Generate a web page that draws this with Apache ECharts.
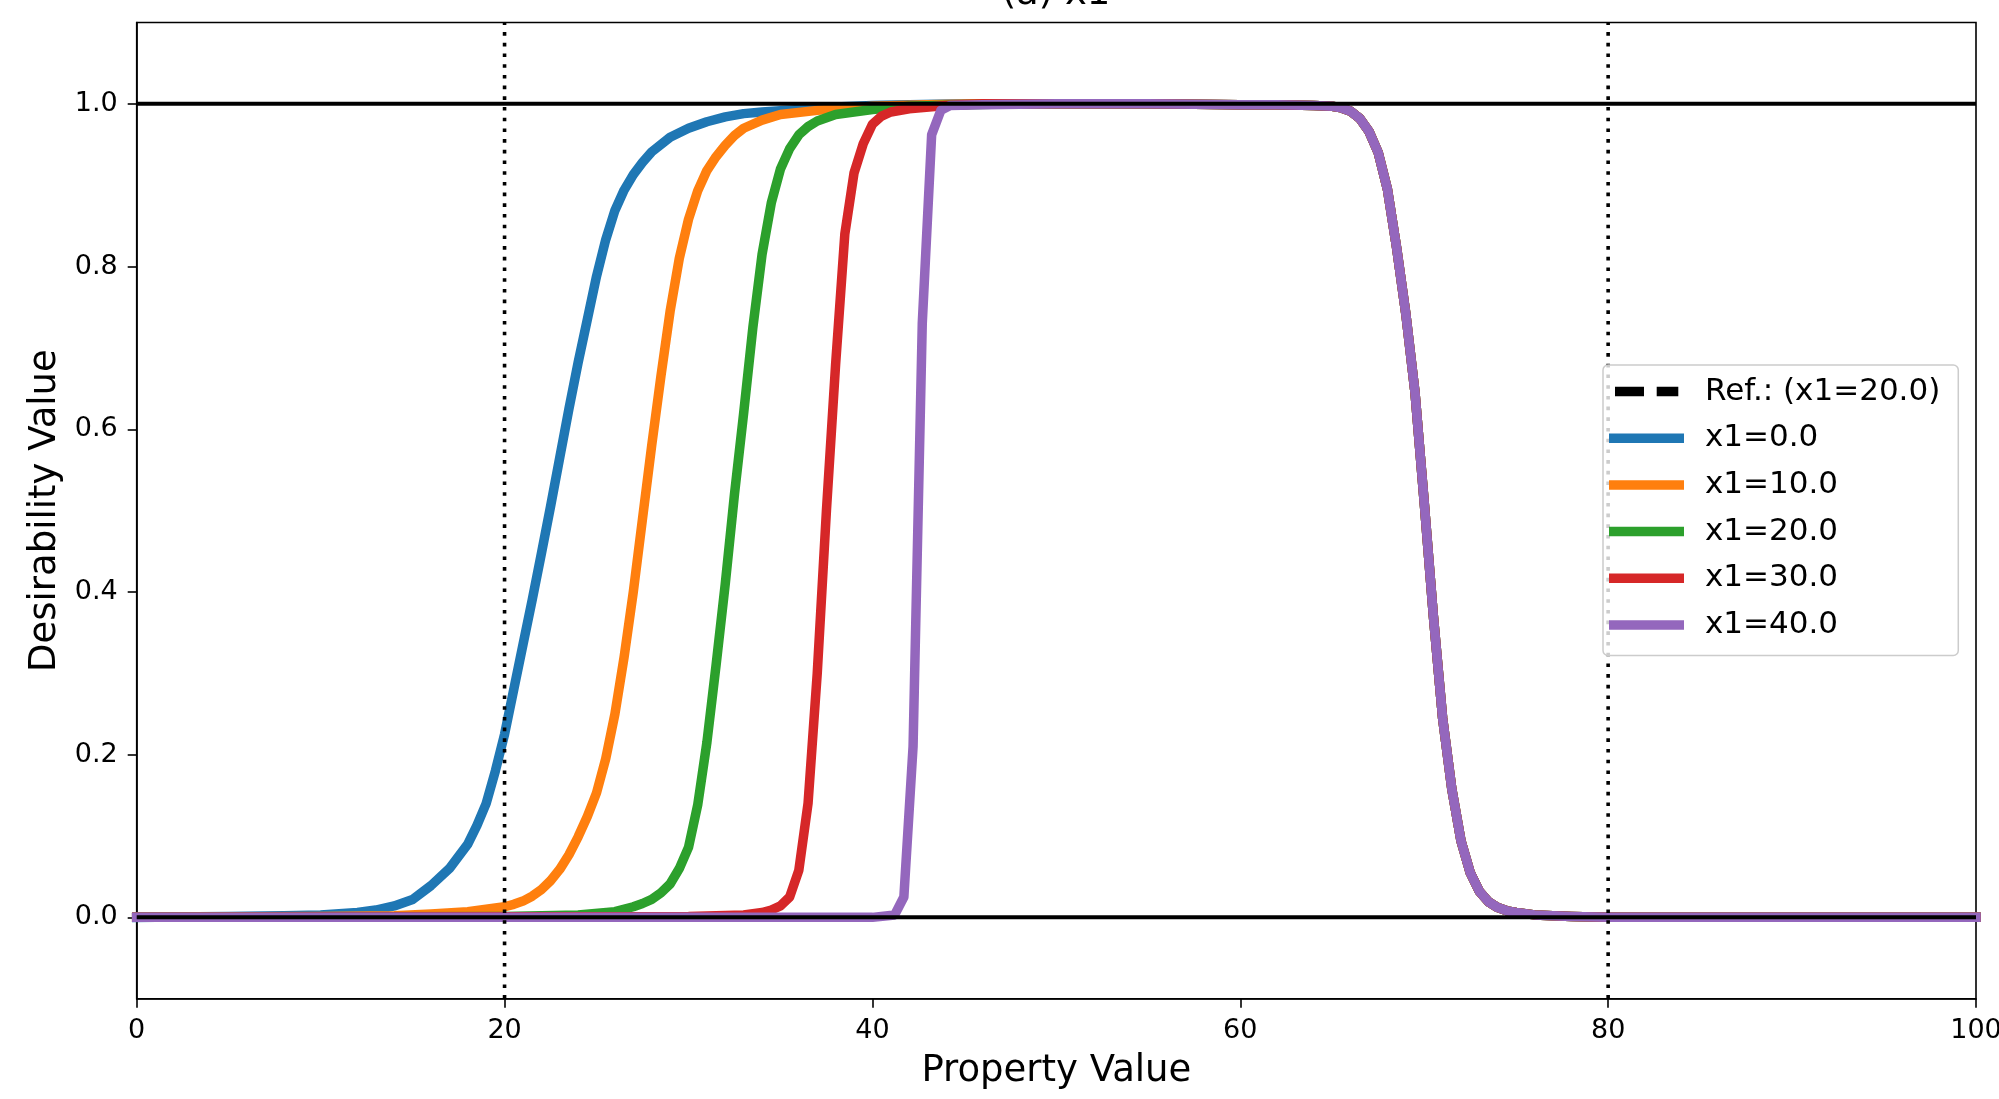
<!DOCTYPE html>
<html>
<head>
<meta charset="utf-8">
<script src="https://cdn.jsdelivr.net/npm/echarts@6/dist/echarts.min.js"></script>
<style>
html,body{margin:0;padding:0;background:#fff;}
#chart{width:1999px;height:1099px;}
</style>
</head>
<body>
<div id="chart"></div>
<script>
// ---- data ----
const seriesNames = ['x1=0.0', 'x1=10.0', 'x1=20.0', 'x1=30.0', 'x1=40.0'];
const refName = 'Ref.: (x1=20.0)';
const colors = ['#1f77b4', '#ff7f0e', '#2ca02c', '#d62728', '#9467bd'];

// rising part of each curve
const riseX_0 = [0, 5, 8, 10, 12, 13, 14, 15, 16, 17, 18, 18.5, 19, 19.5, 20, 20.5, 21, 21.5, 22, 22.5, 23, 23.5, 24, 24.5, 25, 25.5, 26, 26.5, 27, 27.5, 28, 29, 30, 31, 32, 33, 34, 36, 38, 40, 42, 45];
const riseY_0 = [0, 0.001, 0.002, 0.003, 0.006, 0.009, 0.014, 0.022, 0.039, 0.06, 0.09, 0.113, 0.14, 0.18, 0.225, 0.28, 0.335, 0.39, 0.447, 0.505, 0.565, 0.625, 0.682, 0.735, 0.788, 0.833, 0.869, 0.894, 0.913, 0.928, 0.941, 0.959, 0.97, 0.978, 0.984, 0.988, 0.99, 0.993, 0.996, 0.998, 0.999, 1.0];

const riseX_10 = [0, 10, 14, 16, 18, 19, 20, 20.5, 21, 21.5, 22, 22.5, 23, 23.5, 24, 24.5, 25, 25.5, 26, 26.5, 27, 27.5, 28, 28.5, 29, 29.5, 30, 30.5, 31, 31.5, 32, 32.5, 33, 34, 35, 37, 40, 43, 46];
const riseY_10 = [0, 0.001, 0.002, 0.004, 0.007, 0.01, 0.013, 0.016, 0.02, 0.026, 0.034, 0.045, 0.059, 0.077, 0.099, 0.124, 0.153, 0.195, 0.25, 0.32, 0.4, 0.49, 0.58, 0.665, 0.745, 0.81, 0.858, 0.893, 0.918, 0.935, 0.949, 0.961, 0.97, 0.98, 0.987, 0.992, 0.997, 0.999, 1.0];

const riseX_20 = [0, 20, 24, 26, 27, 27.5, 28, 28.5, 29, 29.5, 30, 30.5, 31, 31.5, 32, 32.5, 33, 33.5, 34, 34.5, 35, 35.5, 36, 36.5, 37, 38, 40, 42, 45, 48];
const riseY_20 = [0, 0.001, 0.003, 0.007, 0.013, 0.017, 0.022, 0.03, 0.041, 0.06, 0.086, 0.138, 0.215, 0.31, 0.41, 0.52, 0.62, 0.725, 0.815, 0.878, 0.92, 0.945, 0.962, 0.972, 0.979, 0.987, 0.993, 0.997, 0.999, 1.0];

const riseX_30 = [0, 30, 33, 34, 34.5, 35, 35.5, 36, 36.5, 37, 37.5, 38, 38.5, 39, 39.5, 40, 40.5, 41, 42, 44, 46];
const riseY_30 = [0, 0.001, 0.003, 0.006, 0.009, 0.014, 0.025, 0.058, 0.14, 0.3, 0.5, 0.68, 0.84, 0.915, 0.951, 0.975, 0.985, 0.99, 0.994, 0.998, 1.0];

const riseX_40 = [0, 40, 41.21, 41.71, 42.21, 42.71, 43.22, 43.72, 44.22, 46];
const riseY_40 = [0, 0, 0.003, 0.025, 0.21, 0.73, 0.962, 0.992, 0.998, 0.999];

// shared plateau and falling edge (identical for all curves)
const fallX = [50, 55, 60, 62, 64, 65, 65.5, 66, 66.5, 67, 67.5, 68, 68.5, 69, 69.5, 70, 70.5, 71, 71.5, 72, 72.5, 73, 73.5, 74, 74.5, 75, 76, 78, 80, 90, 100];
const fallY = [1.0, 1.0, 0.999, 0.999, 0.998, 0.997, 0.995, 0.991, 0.982, 0.966, 0.94, 0.895, 0.823, 0.742, 0.645, 0.51, 0.37, 0.245, 0.158, 0.094, 0.055, 0.032, 0.019, 0.012, 0.008, 0.006, 0.003, 0.001, 0, 0, 0];

const hLines = [0, 1];
const vLines = [20, 80];
const yTicks = [0, 0.2, 0.4, 0.6, 0.8, 1.0];

// ---- build ----
const rises = [[riseX_0, riseY_0], [riseX_10, riseY_10], [riseX_20, riseY_20], [riseX_30, riseY_30], [riseX_40, riseY_40]];
function pairs(xs, ys) { return xs.map((x, i) => [x, ys[i]]); }
function curve(i) { return pairs(rises[i][0], rises[i][1]).concat(pairs(fallX, fallY)); }

const FONT = 'DejaVu Sans';
const LW = 9.5;
const series = [];
series.push({
  name: refName, type: 'line', data: curve(2), symbol: 'none', z: 2,
  lineStyle: { color: '#000', width: 7, type: [35, 15] }, itemStyle: { color: '#000' }
});
seriesNames.forEach((n, i) => {
  series.push({
    name: n, type: 'line', data: curve(i), symbol: 'none', z: 2,
    lineStyle: { color: colors[i], width: LW, join: 'round', cap: 'square' },
    itemStyle: { color: colors[i] }
  });
});
hLines.forEach(v => series.push({
  type: 'line', data: [[0, v], [100, v]], symbol: 'none', z: 3, silent: true,
  lineStyle: { color: '#000', width: 4 }
}));
vLines.forEach(v => series.push({
  type: 'line', data: [[v, -0.1], [v, 1.1]], symbol: 'none', z: 3, silent: true,
  lineStyle: { color: '#000', width: 3.6, type: [3.6, 7.1] }
}));

const dashIcon = 'path://M0,0L0,9.5ZM6,0H35V9.5H6ZM47.7,0H69.3V9.5H47.7ZM75,0L75,9.5Z';

const chart = echarts.init(document.getElementById('chart'), null, { renderer: 'canvas' });
chart.setOption({
  animation: false,
  backgroundColor: '#fff',
  graphic: [{
    type: 'text', x: 1056, y: -6, z: 10,
    style: { text: '(a) x1', font: '37px "DejaVu Sans"', fill: '#000', align: 'center', verticalAlign: 'middle', textAlign: 'center', textVerticalAlign: 'middle' }
  }],
  grid: { left: 136.7, top: 22.5, width: 1839.3, height: 976.2, show: true, borderColor: '#000', borderWidth: 1.6, backgroundColor: 'transparent', outerBoundsMode: 'none', containLabel: false },
  legend: {
    data: [
      { name: refName, icon: dashIcon },
      ...seriesNames.map(n => ({ name: n, icon: 'rect' }))
    ],
    orient: 'vertical', left: 1603, top: 365,
    padding: [11, 18, 15, 6],
    itemWidth: 75, itemHeight: 9.5, itemGap: 15.7,
    backgroundColor: 'rgba(255,255,255,0.8)', borderColor: '#cccccc', borderWidth: 1.5, borderRadius: 5,
    textStyle: { fontFamily: FONT, fontSize: 31, color: '#000', lineHeight: 31, padding: [0, 0, 0, 16] },
    selectedMode: false
  },
  xAxis: {
    type: 'value', min: 0, max: 100, interval: 20,
    name: 'Property Value', nameLocation: 'middle', nameGap: 54,
    nameTextStyle: { fontFamily: FONT, fontSize: 37, color: '#000' },
    axisLine: { show: true, onZero: false, lineStyle: { color: '#000', width: 1.6 } },
    axisTick: { show: true, inside: false, length: 9, lineStyle: { color: '#000', width: 1.6 } },
    axisLabel: { fontFamily: FONT, fontSize: 27, color: '#000', margin: 19, formatter: v => String(v) },
    splitLine: { show: false }
  },
  yAxis: {
    type: 'value', min: -0.1, max: 1.1,
    name: 'Desirability Value', nameLocation: 'middle', nameGap: 70, nameRotate: 90,
    nameTextStyle: { fontFamily: FONT, fontSize: 37, color: '#000' },
    axisLine: { show: true, onZero: false, lineStyle: { color: '#000', width: 1.6 } },
    axisTick: { show: true, inside: false, length: 9, lineStyle: { color: '#000', width: 1.6 }, customValues: yTicks },
    axisLabel: { fontFamily: FONT, fontSize: 27, color: '#000', margin: 19, customValues: yTicks, formatter: v => Number(v).toFixed(1) },
    splitLine: { show: false }
  },
  series: series
});
</script>
</body>
</html>
